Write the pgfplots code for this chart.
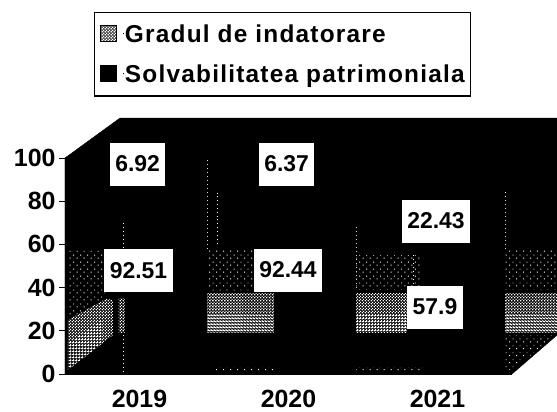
\documentclass[border=0pt]{standalone}
\usepackage{fontspec}
\setmainfont{Liberation Sans}
\newfontfamily\legfont[LetterSpace=5]{Liberation Sans}
\usepackage{pgfplots}
\usepackage{pgfplotstable}
\pgfplotsset{compat=1.18}
\usetikzlibrary{patterns}
\pgfdeclarepatternformonly{speck}{\pgfqpoint{-1pt}{-1pt}}{\pgfqpoint{4pt}{4pt}}{\pgfqpoint{3pt}{3pt}}{
  \pgfpathrectangle{\pgfqpoint{0pt}{0pt}}{\pgfqpoint{1.4pt}{1.4pt}}
  \pgfpathrectangle{\pgfqpoint{1.5pt}{1.5pt}}{\pgfqpoint{1pt}{1pt}}
  \pgfusepath{fill}}
\pgfdeclarepatternformonly{speckb}{\pgfqpoint{-1pt}{-1pt}}{\pgfqpoint{4pt}{4pt}}{\pgfqpoint{3pt}{3pt}}{
  \pgfpathrectangle{\pgfqpoint{1.6pt}{0.2pt}}{\pgfqpoint{.7pt}{.7pt}}
  \pgfusepath{fill}}
\pgfdeclarepatternformonly{sparse}{\pgfqpoint{-1pt}{-1pt}}{\pgfqpoint{8pt}{8pt}}{\pgfqpoint{7pt}{7pt}}{
  \pgfpathrectangle{\pgfqpoint{0pt}{0pt}}{\pgfqpoint{1pt}{1pt}}
  \pgfpathrectangle{\pgfqpoint{3.5pt}{3pt}}{\pgfqpoint{.9pt}{.9pt}}
  \pgfusepath{fill}}
\pgfplotstableread{
x   grad  solv
0.5 6.92  92.51
1.5 6.37  92.44
2.5 22.43 57.9
}\bars
\pgfplotstableread{
x     y    label
0.487 97.2 6.92
1.487 97.2 6.37
2.490 70.8 22.43
0.493 47.7 92.51
1.497 48.1 92.44
2.483 31.0 57.9
}\labels
\pgfplotsset{base/.style={scale only axis,width=447bp,height=216bp,xmin=0,xmax=3,ymin=0,ymax=100,clip=false},
 dense/.style={pattern=speck,pattern color=white,draw=none},
 denser/.style={pattern=speckb,pattern color=white,draw=none},
 thin speck/.style={pattern=sparse,pattern color=white,draw=none},
 wallw/.style={white,line width=.8pt,dash pattern=on 1pt off 3pt}}
\begin{document}
\begin{tikzpicture}
\useasboundingbox (-65bp,-38bp) rectangle (492bp,374bp);
\begin{axis}[base,
  ytick={0,20,40,60,80,100},
  xtick={0.5,1.5,2.5},xticklabels={2019,2020,2021},
  minor xtick={0,1,2,3},
  axis x line*=bottom,axis y line*=left,
  axis line style={-,draw=black,line width=1pt},
  major tick length=6bp,
  ytick style={black,line width=1pt},
  xtick style={draw=none},
  minor tick length=6bp,
  minor tick style={draw=black,line width=1pt},
  tick align=outside,
  /pgf/number format/assume math mode=true,
  ticklabel style={font=\fontsize{25}{25}\selectfont\bfseries},
  xticklabel style={yshift=-10bp,inner sep=0pt},
]
\addplot[fill=black,draw=black] coordinates {(0,100)(0.369,118.5)(3.302,118.5)(3.302,18)(3,0)(0,0)} -- cycle;
% dense speckle
\addplot[dense] coordinates {(0.02,1.9)(0.322,18)(0.322,34)(0.28,35)(0.02,25)} -- cycle;
\addplot[dense] coordinates {(0.36,19)(0.40,19)(0.40,35)(0.36,35)} -- cycle;
\addplot[dense] coordinates {(0.953,19.4)(1.403,19.4)(1.403,37.5)(0.953,37.5)} -- cycle;
\addplot[dense] coordinates {(1.953,19.4)(2.295,19.4)(2.295,37.5)(1.953,37.5)} -- cycle;
\addplot[dense] coordinates {(2.953,19.4)(3.302,19.4)(3.302,37.5)(2.953,37.5)} -- cycle;
% brighter lower part of the speckled bands
\addplot[denser] coordinates {(0.02,1.9)(0.25,14)(0.25,25)(0.02,14)} -- cycle;
\addplot[denser] coordinates {(0.953,19.4)(1.403,19.4)(1.403,27)(0.953,27)} -- cycle;
\addplot[denser] coordinates {(1.953,19.4)(2.295,19.4)(2.295,27)(1.953,27)} -- cycle;
\addplot[denser] coordinates {(2.953,19.4)(3.302,19.4)(3.302,27)(2.953,27)} -- cycle;
% sparse speckle
\addplot[thin speck] coordinates {(0.02,25)(0.27,36)(0.27,57)(0.02,57)} -- cycle;
\addplot[thin speck] coordinates {(0.953,38)(1.27,38)(1.27,57)(0.953,57)} -- cycle;
\addplot[thin speck] coordinates {(1.953,39)(2.38,39)(2.38,55)(1.953,55)} -- cycle;
\addplot[thin speck] coordinates {(2.953,39)(3.302,39)(3.302,57)(2.953,57)} -- cycle;
\addplot[thin speck] coordinates {(2.953,2)(3.0,2)(3.302,18)(2.953,18)} -- cycle;
\addplot[thin speck] coordinates {(1.0,1)(2.9,1)(2.9,3)(1.0,3)} -- cycle;
% stray dotted edges
\addplot[wallw] coordinates {(0.953,58)(0.953,99)};
\addplot[wallw] coordinates {(0.39,40)(0.39,70)};
\addplot[wallw] coordinates {(1.02,60)(1.02,84)};
\addplot[wallw] coordinates {(1.953,40)(1.953,68)};
\addplot[wallw] coordinates {(2.953,58)(2.953,85)};
\addplot[wallw] coordinates {(2.34,40)(2.34,56)};
\addplot[wallw] coordinates {(0.39,1)(0.39,18)};
\end{axis}
\begin{axis}[base,hide axis,ybar stacked,bar width=82bp,bar shift=26.5bp]
\addplot[fill=black,draw=none] table[x=x,y=solv] {\bars};
\addplot[fill=black,draw=none] table[x=x,y=grad] {\bars};
\end{axis}
\begin{axis}[base,hide axis,
  legend style={at={(29bp,362bp)},anchor=north west,draw=black,line width=1.3pt,
    inner xsep=5bp,inner ysep=11bp,
    font=\fontsize{24.5}{26}\legfont\bfseries,
    row sep=19bp,
    nodes={inner sep=1bp}},
  legend cell align=left,
  legend image code/.code={\path[#1] (6bp,-7bp) rectangle (22bp,9bp);\path (29bp,0bp) -- (29bp,1bp);},
]
\addlegendimage{draw=black,line width=.8pt,pattern=speck,pattern color=white,preaction={fill=black!70}}
\addlegendentry{Gradul de indatorare}
\addlegendimage{fill=black,draw=black}
\addlegendentry{Solvabilitatea patrimoniala}
\addplot[only marks,mark=none,
  nodes near coords,
  point meta=explicit symbolic,
  nodes near coords align={center},
  every node near coord/.append style={fill=white,text=black,inner xsep=5.5bp,minimum height=43bp,
     font=\fontsize{23}{23}\selectfont\bfseries,anchor=center}]
 table[x=x,y=y,meta=label] {\labels};
\end{axis}
\end{tikzpicture}
\end{document}
